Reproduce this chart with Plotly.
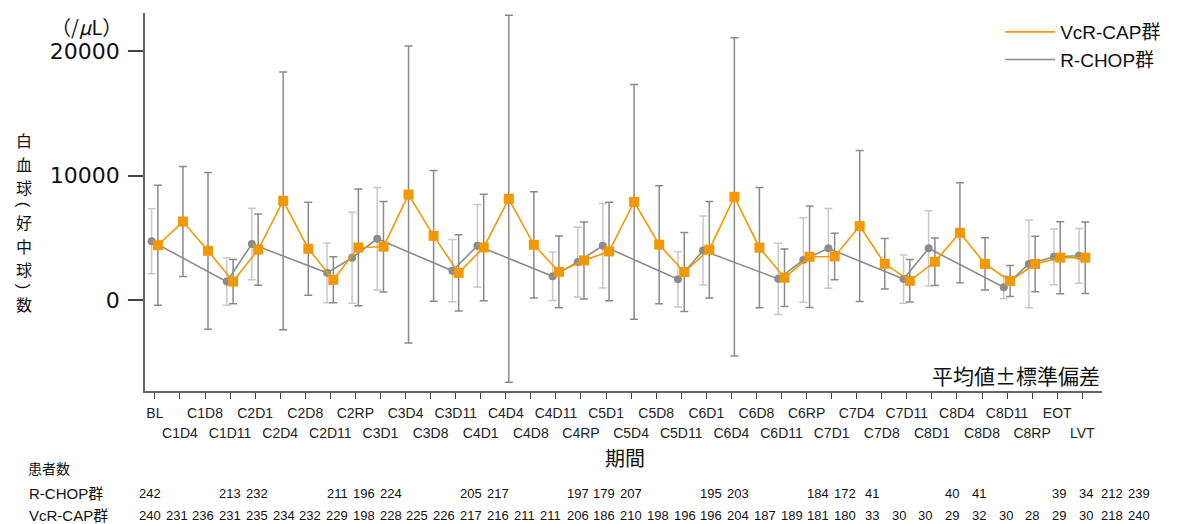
import plotly.graph_objects as go

# ---------------- data ----------------
categories = ["BL", "C1D4", "C1D8", "C1D11", "C2D1", "C2D4", "C2D8", "C2D11", "C2RP",
              "C3D1", "C3D4", "C3D8", "C3D11", "C4D1", "C4D4", "C4D8", "C4D11", "C4RP",
              "C5D1", "C5D4", "C5D8", "C5D11", "C6D1", "C6D4", "C6D8", "C6D11", "C6RP",
              "C7D1", "C7D4", "C7D8", "C7D11", "C8D1", "C8D4", "C8D8", "C8D11", "C8RP",
              "EOT", "LVT"]

vcr_mean = [4400, 6300, 3950, 1480, 4050, 7970, 4120, 1620, 4220,
            4280, 8470, 5150, 2180, 4220, 8130, 4430, 2260, 3180,
            3900, 7880, 4440, 2250, 4040, 8290, 4200, 1790, 3470,
            3500, 5940, 2910, 1540, 3070, 5400, 2900, 1530, 2890,
            3400, 3400]
vcr_sd = [4820, 4420, 6300, 1780, 2860, 10350, 3730, 1850, 4690,
          3640, 11930, 5250, 3070, 4280, 14740, 4270, 2890, 3090,
          3960, 9420, 4740, 3170, 3880, 12780, 4830, 2310, 4080,
          1870, 6060, 2020, 1710, 1900, 4010, 2100, 1250, 2230,
          2890, 2870]

N = None
rchop_mean = [4720, N, N, 1480, 4500, N, N, 2180, 3390,
              4920, N, N, 2350, 4360, N, N, 1900, 3050,
              4360, N, N, 1660, 3970, N, N, 1700, 3210,
              4150, N, N, 1680, 4150, N, N, 1020, 2900,
              3470, 3550]
rchop_sd = [2610, N, N, 1900, 2870, N, N, 2400, 3650,
            4110, N, N, 2500, 3320, N, N, 1950, 2800,
            3400, N, N, 2220, 2770, N, N, 2860, 3400,
            3200, N, N, 1940, 3010, N, N, 925, 3520,
            2235, 2200]

n_rchop = ["242", "", "", "213", "232", "", "", "211", "196",
           "224", "", "", "205", "217", "", "", "197", "179",
           "207", "", "", "195", "203", "", "", "184", "172",
           "41", "", "", "40", "41", "", "", "39", "34",
           "212", "239"]
n_vcr = ["240", "231", "236", "231", "235", "234", "232", "229", "198",
         "228", "225", "226", "217", "216", "211", "211", "206", "186",
         "210", "198", "196", "196", "204", "187", "189", "181", "180",
         "33", "30", "30", "29", "32", "30", "28", "29", "30",
         "218", "240"]

yticks = [0, 10000, 20000]

# ---------------- style ----------------
ORANGE = "#F39800"
GRAY = "#8C8C8C"
LATIN = "Liberation Sans, Arial, Noto Sans CJK JP"
WIDE = "DejaVu Sans, Liberation Sans"
CJK = "Noto Sans CJK JP, Liberation Sans"

W, H = 1178, 524
ML, MR, MT, MB = 145, 63, 13, 133
PW, PH = W - ML - MR, H - MT - MB


def px(xp):
    return (xp - ML) / PW


def py(yp):
    return (H - MB - yp) / PH


idx = list(range(len(categories)))
x_r = [i - 0.13 for i in idx]
x_v = [i + 0.12 for i in idx]

fig = go.Figure()

fig.add_trace(go.Scatter(
    x=x_r, y=rchop_mean, mode="lines+markers", connectgaps=True,
    line=dict(color=GRAY, width=1.6),
    marker=dict(symbol="circle", size=8, color=GRAY),
    error_y=dict(type="data", array=rchop_sd, visible=True,
                 color="#C8C8C8", thickness=1.5, width=4),
    showlegend=False))

fig.add_trace(go.Scatter(
    x=x_v, y=vcr_mean, mode="lines+markers",
    line=dict(color=ORANGE, width=1.6),
    marker=dict(symbol="square", size=10, color=ORANGE),
    error_y=dict(type="data", array=vcr_sd, visible=True,
                 color="#8A8A8A", thickness=1.5, width=4),
    showlegend=False))

# legend entries (line only)
fig.add_trace(go.Scatter(x=[None], y=[None], mode="lines", name="VcR-CAP群",
                         line=dict(color=ORANGE, width=1.6)))
fig.add_trace(go.Scatter(x=[None], y=[None], mode="lines", name="R-CHOP群",
                         line=dict(color=GRAY, width=1.6)))

xrange = [-0.394, 37.787]
top_text = [c if i % 2 == 0 else "" for i, c in enumerate(categories)]
odd_vals = [i for i in idx if i % 2 == 1]
odd_text = [categories[i] for i in odd_vals]

fig.update_layout(
    width=W, height=H, autosize=False,
    margin=dict(l=ML, r=MR, t=MT, b=MB),
    paper_bgcolor="white", plot_bgcolor="white",
    font=dict(family=LATIN, color="#111"),
    xaxis=dict(range=xrange, tickmode="array", tickvals=idx, ticktext=top_text,
               showgrid=False, zeroline=False, showline=True, linecolor="#666",
               linewidth=1.5, ticks="outside", ticklen=6, tickcolor="#444",
               tickwidth=1, tickfont=dict(size=14, family=LATIN, color="#222"),
               ticklabelstandoff=2),
    xaxis2=dict(range=xrange, overlaying="x", anchor="y", side="bottom",
                tickmode="array", tickvals=odd_vals, ticktext=odd_text,
                showgrid=False, zeroline=False, showline=False, ticks="",
                tickfont=dict(size=14, family=LATIN, color="#222"),
                ticklabelstandoff=32),
    yaxis=dict(range=[-7309, 23052], tickmode="array", tickvals=yticks,
               ticktext=[str(v) for v in yticks],
               showgrid=False, zeroline=False, showline=True, linecolor="#666",
               linewidth=1.5, ticks="outside", ticklen=15, tickcolor="#444",
               tickwidth=1.5, tickfont=dict(size=22, family=WIDE, color="#111"),
               ticklabelstandoff=4),
    legend=dict(x=px(1180), xanchor="right", y=1.0, yanchor="top",
                bgcolor="rgba(0,0,0,0)", font=dict(size=19, family=LATIN, color="#111"),
                tracegroupgap=0, itemwidth=50),
)

# dummy trace so xaxis2 is drawn
fig.add_trace(go.Scatter(x=[None], y=[None], xaxis="x2", yaxis="y", showlegend=False))

ann = []
ann.append(dict(text="（/<i>μ</i>L）", xref="paper", yref="paper", x=px(124), y=py(26),
                xanchor="right", yanchor="middle", showarrow=False,
                font=dict(size=20, family=CJK, color="#111")))

# vertical axis title: upright CJK characters, parentheses turned 90 degrees
ytitle = [("白", 0), ("血", 0), ("球", 0), ("(", 90), ("好", 0), ("中", 0), ("球", 0),
          (")", 90), ("数", 0)]
ytitle_y = [140, 163.5, 187, 204.5, 222, 245.5, 269, 286.5, 304]
for (ch, ang), yp in zip(ytitle, ytitle_y):
    ann.append(dict(text=ch, xref="paper", yref="paper", x=px(22), y=py(yp),
                    xanchor="center", yanchor="middle", showarrow=False,
                    textangle=ang,
                    font=dict(size=16 if ang == 0 else 17,
                              family=CJK if ang == 0 else LATIN, color="#111")))

ann.append(dict(text="平均値±標準偏差", xref="paper", yref="paper", x=px(1115), y=py(375),
                xanchor="right", yanchor="middle", showarrow=False,
                font=dict(size=21, family=CJK, color="#111")))
ann.append(dict(text="期間", xref="paper", yref="paper", x=px(632), y=py(457),
                xanchor="center", yanchor="middle", showarrow=False,
                font=dict(size=20, family=CJK, color="#111")))
ann.append(dict(text="患者数", xref="paper", yref="paper", x=px(24), y=py(468),
                xanchor="left", yanchor="middle", showarrow=False,
                font=dict(size=14, family=CJK, color="#111")))
ann.append(dict(text="R-CHOP群", xref="paper", yref="paper", x=px(25), y=py(493),
                xanchor="left", yanchor="middle", showarrow=False,
                font=dict(size=15, family=LATIN, color="#111")))
ann.append(dict(text="VcR-CAP群", xref="paper", yref="paper", x=px(25), y=py(515),
                xanchor="left", yanchor="middle", showarrow=False,
                font=dict(size=15, family=LATIN, color="#111")))

NUMFONT = "Liberation Sans Narrow, Arial Narrow, Liberation Sans"
for i in idx:
    xc = 150 + i * 27.1
    if n_rchop[i]:
        ann.append(dict(text=n_rchop[i], xref="paper", yref="paper", x=px(xc), y=py(493),
                        xanchor="center", yanchor="middle", showarrow=False,
                        font=dict(size=13, family=NUMFONT, color="#111")))
    ann.append(dict(text=n_vcr[i], xref="paper", yref="paper", x=px(xc), y=py(515),
                    xanchor="center", yanchor="middle", showarrow=False,
                    font=dict(size=13, family=NUMFONT, color="#111")))

fig.update_layout(annotations=ann)

fig.write_html("out.html")
